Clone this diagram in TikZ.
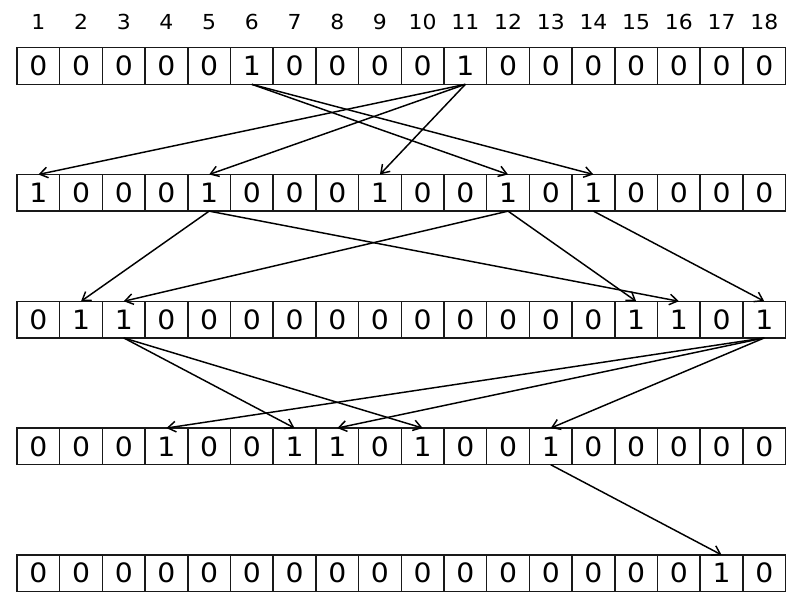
\documentclass[tikz,border=0pt]{standalone}
\usepackage{fontspec}
\setmainfont{DejaVu Sans}
\usetikzlibrary{arrows.meta}
% slightly widened digits
\newcommand{\wide}[1]{\scalebox{1.06}[1]{#1}}
\begin{document}
\begin{tikzpicture}[x=0.75pt,y=-0.75pt,
  cell/.style={draw=black!90, line width=1.1pt, minimum width=32.03pt, minimum height=27.5pt,
    inner sep=0pt, outer sep=0pt, text height=14.6pt, text depth=0pt,
    font=\fontsize{20}{20}\selectfont},
  idx/.style={inner sep=0pt, text height=11.3pt, text depth=0pt,
    font=\fontsize{15.5}{15.5}\selectfont},
  flow/.style={line width=1.1pt, -{Straight Barb[length=6pt,width=8pt]}}]
\useasboundingbox (0,0) rectangle (800,600);
% column numbers
\foreach \i in {1,...,18}
  \node[idx] (n\i) at ({17+(\i-0.5)*42.7},21.5) {\wide{\i}};
% the five bit rows
\foreach \r/\bits in {
  1/{0,0,0,0,0,1,0,0,0,0,1,0,0,0,0,0,0,0},
  2/{1,0,0,0,1,0,0,0,1,0,0,1,0,1,0,0,0,0},
  3/{0,1,1,0,0,0,0,0,0,0,0,0,0,0,1,1,0,1},
  4/{0,0,0,1,0,0,1,1,0,1,0,0,1,0,0,0,0,0},
  5/{0,0,0,0,0,0,0,0,0,0,0,0,0,0,0,0,1,0}} {
  \foreach \b [count=\c] in \bits
    \node[cell] (r\r-\c) at ({17+(\c-0.5)*42.7},{66+(\r-1)*126.8}) {\wide{\b}};
}
% propagation arrows between consecutive rows
\foreach \r/\s/\t in {
  1/6/12, 1/6/14, 1/11/1, 1/11/5, 1/11/9,
  2/5/2, 2/5/16, 2/12/3, 2/12/15, 2/14/18,
  3/3/7, 3/3/10, 3/18/4, 3/18/8, 3/18/13,
  4/13/17} {
  \pgfmathtruncatemacro{\nr}{\r+1}
  \draw[flow] (r\r-\s.south) -- (r\nr-\t.north);
}
\end{tikzpicture}
\end{document}
